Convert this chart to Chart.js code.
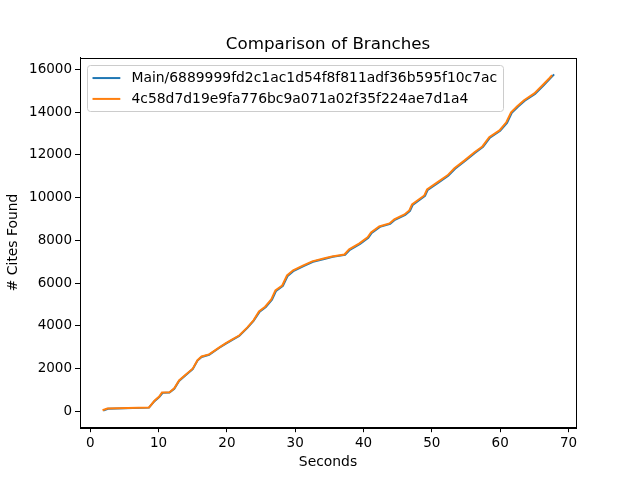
<!DOCTYPE html>
<html>
<head>
<meta charset="utf-8">
<script src="https://cdn.jsdelivr.net/npm/chart.js@4/dist/chart.umd.min.js"></script>
<style>
  body { margin: 0; background: #fff; }
  #chart { display: block; }
</style>
</head>
<body>
<canvas id="chart" width="640" height="480"></canvas>
<script>
// datos
const mainLabel = 'Main/6889999fd2c1ac1d54f8f811adf36b595f10c7ac';
const branchLabel = '4c58d7d19e9fa776bc9a071a02f35f224ae7d1a4';

const mainSeconds = [1.9, 2.6, 8.6, 9.4, 10.1, 10.6, 11.6, 12.3, 13.0, 14.0, 15.0, 15.7, 16.3, 17.4, 18.9, 19.8, 20.8, 21.8, 23.0, 23.9, 24.8, 25.7, 26.6, 27.2, 28.2, 28.9, 29.8, 31.3, 32.6, 34.4, 35.5, 37.3, 38.0, 39.5, 40.7, 41.2, 42.4, 43.9, 44.6, 46.1, 46.8, 47.2, 49.0, 49.4, 50.9, 52.4, 53.4, 54.9, 56.3, 57.5, 58.5, 60.0, 61.0, 61.7, 62.6, 63.6, 65.1, 66.3, 67.3, 67.9];
const mainCites = [40, 130, 180, 480, 680, 870, 890, 1060, 1430, 1710, 1980, 2380, 2550, 2650, 2980, 3160, 3350, 3530, 3910, 4240, 4660, 4880, 5220, 5640, 5870, 6340, 6580, 6810, 7000, 7140, 7230, 7320, 7560, 7840, 8120, 8350, 8630, 8770, 8960, 9190, 9380, 9660, 10080, 10360, 10690, 11020, 11350, 11720, 12090, 12370, 12800, 13120, 13490, 13960, 14250, 14530, 14850, 15230, 15560, 15760];

const branchSeconds = [1.8, 2.5, 8.6, 9.4, 10.1, 10.5, 11.6, 12.3, 13.0, 14.0, 15.0, 15.7, 16.3, 17.4, 18.9, 19.8, 20.8, 21.8, 23.0, 23.9, 24.7, 25.6, 26.5, 27.1, 28.1, 28.8, 29.7, 31.2, 32.5, 34.3, 35.4, 37.2, 37.9, 39.4, 40.6, 41.1, 42.3, 43.8, 44.5, 46.0, 46.7, 47.1, 48.9, 49.3, 50.8, 52.3, 53.3, 54.8, 56.2, 57.4, 58.4, 59.9, 60.9, 61.6, 62.5, 63.5, 65.0, 66.2, 67.2, 67.6];
const branchCites = [60, 140, 190, 500, 700, 890, 900, 1080, 1450, 1730, 2000, 2400, 2570, 2670, 3000, 3180, 3370, 3550, 3930, 4260, 4680, 4900, 5240, 5660, 5890, 6360, 6600, 6830, 7020, 7160, 7250, 7340, 7580, 7860, 8140, 8370, 8650, 8790, 8980, 9210, 9400, 9680, 10100, 10380, 10710, 11040, 11370, 11740, 12110, 12390, 12820, 13140, 13520, 13990, 14270, 14550, 14870, 15250, 15580, 15720];

const xTicks = [0, 10, 20, 30, 40, 50, 60, 70];
const yTicks = [0, 2000, 4000, 6000, 8000, 10000, 12000, 14000, 16000];

const chartTitle = 'Comparison of Branches';
const xTitle = 'Seconds';
const yTitle = '# Cites Found';

const FONT = 'DejaVu Sans';

function toPoints(xs, ys) {
  return xs.map((x, i) => ({ x: x, y: ys[i] }));
}

// titulo, leyenda y marco al estilo matplotlib
const framePlugin = {
  id: 'frame',
  afterDraw(chart) {
    const ctx = chart.ctx;
    const area = chart.chartArea;
    ctx.save();
    ctx.strokeStyle = '#000';
    ctx.lineWidth = 1;
    ctx.strokeRect(Math.round(area.left) + 0.5, Math.round(area.top) + 0.5,
      Math.round(area.right - area.left), Math.round(area.bottom - area.top));

    ctx.fillStyle = '#000';
    ctx.font = '16.7px "' + FONT + '"';
    ctx.textAlign = 'center';
    ctx.textBaseline = 'alphabetic';
    ctx.fillText(chartTitle, (area.left + area.right) / 2, 49);

    // leyenda
    const fs = 13.9;
    ctx.font = fs + 'px "' + FONT + '"';
    const sets = chart.data.datasets;
    let maxW = 0;
    sets.forEach(d => { maxW = Math.max(maxW, ctx.measureText(d.label).width); });
    const pad = 0.4 * fs;
    const handle = 2 * fs;
    const gap = 0.8 * fs;
    const rowH = fs;
    const spacing = 0.5 * fs;
    const bx = area.left + 0.5 * fs;
    const by = area.top + 0.5 * fs;
    const bw = pad * 2 + handle + gap + maxW;
    const bh = pad * 2 + rowH * sets.length + spacing * (sets.length - 1);
    ctx.beginPath();
    ctx.roundRect(Math.round(bx) + 0.5, Math.round(by) + 0.5, Math.round(bw), Math.round(bh), 3);
    ctx.fillStyle = 'rgba(255,255,255,0.8)';
    ctx.fill();
    ctx.strokeStyle = '#cccccc';
    ctx.stroke();
    ctx.textAlign = 'left';
    ctx.textBaseline = 'middle';
    sets.forEach((d, i) => {
      const cy = by + pad + rowH / 2 + i * (rowH + spacing) + 1;
      ctx.strokeStyle = d.borderColor;
      ctx.lineWidth = 2;
      ctx.beginPath();
      ctx.moveTo(bx + pad, cy);
      ctx.lineTo(bx + pad + handle, cy);
      ctx.stroke();
      ctx.fillStyle = '#000';
      ctx.fillText(d.label, bx + pad + handle + gap, cy);
    });
    ctx.restore();
  }
};

const ctx = document.getElementById('chart').getContext('2d');
const myChart = new Chart(ctx, {
  type: 'line',
  data: {
    datasets: [{
      label: mainLabel,
      data: toPoints(mainSeconds, mainCites),
      borderColor: '#1f77b4',
      borderWidth: 2,
      pointRadius: 0,
      tension: 0,
      order: 2
    }, {
      label: branchLabel,
      data: toPoints(branchSeconds, branchCites),
      borderColor: '#ff7f0e',
      borderWidth: 2,
      pointRadius: 0,
      tension: 0,
      order: 1
    }]
  },
  options: {
    responsive: false,
    animation: false,
    devicePixelRatio: 1,
    layout: { padding: { top: 57.6, right: 64, bottom: 0, left: 0 } },
    plugins: {
      legend: { display: false },
      title: { display: false },
      tooltip: { enabled: false }
    },
    scales: {
      x: {
        type: 'linear',
        min: -1.5,
        max: 71.1,
        afterFit(scale) { scale.height = 52.8; },
        afterBuildTicks(scale) { scale.ticks = xTicks.map(v => ({ value: v })); },
        grid: { display: true, drawOnChartArea: false, drawTicks: true, tickLength: 5, color: '#000' },
        border: { display: true, color: '#000' },
        ticks: {
          color: '#000',
          padding: 3,
          maxRotation: 0,
          font: { family: FONT, size: 13.5 },
          callback: v => String(v)
        },
        title: {
          display: true,
          text: xTitle,
          color: '#000',
          font: { family: FONT, size: 13.9 },
          padding: { top: 0, bottom: 9 }
        }
      },
      y: {
        type: 'linear',
        min: -735,
        max: 16545,
        afterFit(scale) { scale.width = 80; },
        afterBuildTicks(scale) { scale.ticks = yTicks.map(v => ({ value: v })); },
        grid: { display: true, drawOnChartArea: false, drawTicks: true, tickLength: 5, color: '#000' },
        border: { display: true, color: '#000' },
        ticks: {
          color: '#000',
          padding: 3,
          font: { family: FONT, size: 13.5 },
          callback: v => String(v)
        },
        title: {
          display: true,
          text: yTitle,
          color: '#000',
          font: { family: FONT, size: 13.9 },
          padding: { top: 5, bottom: 0 }
        }
      }
    }
  },
  plugins: [framePlugin]
});
</script>
</body>
</html>
